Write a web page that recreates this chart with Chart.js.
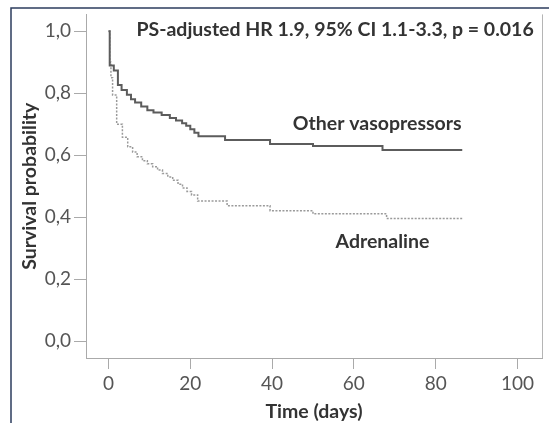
<!DOCTYPE html>
<html>
<head>
<meta charset="utf-8">
<script src="https://cdn.jsdelivr.net/npm/chart.js@4"></script>
<style>
  body { margin: 0; background: #fff; }
  canvas { display: block; }
</style>
</head>
<body>
<canvas id="kmChart" width="549" height="423"></canvas>
<script>
// survival curves (days, probability)
const otherDays = [0, 0.3, 1.3, 2.3, 3.2, 4.5, 5.5, 6.5, 8, 9.5, 11, 13, 15, 16.5, 18, 19, 20, 21, 22, 28.5, 39.5, 50, 67, 86.5];
const otherSurv = [1.0, 0.889, 0.873, 0.826, 0.81, 0.795, 0.78, 0.77, 0.757, 0.745, 0.738, 0.73, 0.72, 0.712, 0.703, 0.695, 0.684, 0.672, 0.661, 0.649, 0.636, 0.63, 0.617, 0.617];

const adrenDays = [0, 0.3, 0.6, 1, 2, 3.4, 4.7, 5.9, 7, 8.3, 9.5, 10.8, 12, 13.2, 14.5, 15.7, 17, 18.1, 19.2, 20.3, 21.8, 29, 39.5, 50, 68, 86.5];
const adrenSurv = [1.0, 0.9, 0.85, 0.794, 0.70, 0.658, 0.627, 0.61, 0.595, 0.582, 0.572, 0.563, 0.552, 0.541, 0.53, 0.519, 0.506, 0.494, 0.483, 0.472, 0.452, 0.437, 0.421, 0.411, 0.396, 0.396];

const xTicks = [0, 20, 40, 60, 80, 100];
const yTicks = [0, 0.2, 0.4, 0.6, 0.8, 1.0];

const statsText = 'PS-adjusted HR 1.9, 95% CI 1.1-3.3, p = 0.016';
const labels = [
    { text: 'Other vasopressors', x: 65.7, y: 0.70 },
    { text: 'Adrenaline', x: 67, y: 0.32 },
];

const FONT = 'Lato, "Open Sans", sans-serif';

function toPoints(xs, ys) {
    return xs.map((x, i) => ({ x: x, y: ys[i] }));
}

const decorations = {
    id: 'decorations',
    afterDraw(chart) {
        const ctx = chart.ctx;
        const area = chart.chartArea;
        const xs = chart.scales.x;
        const ys = chart.scales.y;
        ctx.save();

        // right side of plot box
        ctx.strokeStyle = '#b5b5b5';
        ctx.lineWidth = 1;
        ctx.beginPath();
        ctx.moveTo(area.right + 0.5, area.top);
        ctx.lineTo(area.right + 0.5, area.bottom);
        ctx.stroke();

        // outer frame (left and top)
        ctx.strokeStyle = '#2c3d5e';
        ctx.lineWidth = 1.5;
        ctx.beginPath();
        ctx.moveTo(11, 423);
        ctx.lineTo(11, 8);
        ctx.lineTo(549, 8);
        ctx.stroke();

        ctx.fillStyle = '#333';
        ctx.font = 'bold 19.5px ' + FONT;
        ctx.textAlign = 'center';
        ctx.textBaseline = 'middle';
        ctx.fillText(statsText, xs.getPixelForValue(55.4), ys.getPixelForValue(1.003));
        labels.forEach(l => {
            ctx.fillText(l.text, xs.getPixelForValue(l.x), ys.getPixelForValue(l.y));
        });
        ctx.restore();
    },
};

document.addEventListener('DOMContentLoaded', function () {
    const ctx = document.getElementById('kmChart').getContext('2d');
    new Chart(ctx, {
        type: 'line',
        data: {
            datasets: [{
                label: 'Other vasopressors',
                data: toPoints(otherDays, otherSurv),
                borderColor: '#5c5c5c',
                borderWidth: 2,
                stepped: true,
                pointRadius: 0,
                fill: false,
            }, {
                label: 'Adrenaline',
                data: toPoints(adrenDays, adrenSurv),
                borderColor: '#9a9a9a',
                borderWidth: 1.5,
                borderDash: [2, 1.5],
                stepped: true,
                pointRadius: 0,
                fill: false,
            }],
        },
        options: {
            responsive: false,
            animation: false,
            layout: { padding: { left: 0, top: 8, right: 7, bottom: 0 } },
            plugins: {
                legend: { display: false },
                tooltip: { enabled: false },
            },
            scales: {
                x: {
                    type: 'linear',
                    min: -5.5,
                    max: 106,
                    afterBuildTicks: s => { s.ticks = xTicks.map(v => ({ value: v })); },
                    afterFit: s => { s.height = 65; },
                    grid: { drawOnChartArea: false, tickLength: 11, tickColor: '#aaa' },
                    border: { color: '#aaa' },
                    ticks: { color: '#555', font: { family: FONT, size: 19 }, padding: 3, maxRotation: 0 },
                    title: {
                        display: true,
                        text: 'Time (days)',
                        color: '#333',
                        font: { family: FONT, size: 19.5, weight: 'bold' },
                        padding: { top: 0, bottom: 0 },
                    },
                },
                y: {
                    min: -0.054,
                    max: 1.054,
                    afterBuildTicks: s => { s.ticks = yTicks.map(v => ({ value: v })); },
                    afterFit: s => { s.width = 86; },
                    grid: { drawOnChartArea: false, tickLength: 12, tickColor: '#aaa' },
                    border: { color: '#aaa' },
                    ticks: {
                        color: '#555',
                        font: { family: FONT, size: 19 },
                        padding: 3,
                        callback: v => v.toFixed(1).replace('.', ','),
                    },
                    title: {
                        display: true,
                        text: 'Survival probability',
                        color: '#333',
                        font: { family: FONT, size: 19.5, weight: 'bold' },
                        padding: { top: 18, bottom: 0 },
                    },
                },
            },
        },
        plugins: [decorations],
    });
});
</script>
</body>
</html>
